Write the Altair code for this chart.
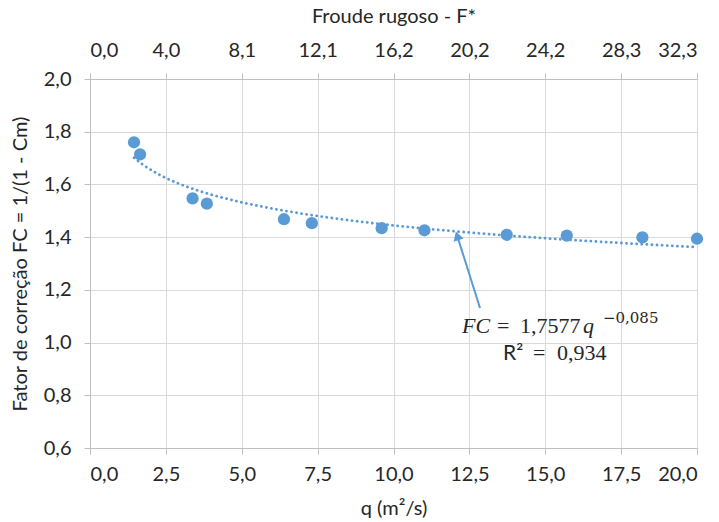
import altair as alt
import pandas as pd

# data
q_vals = [1.45, 1.65, 3.38, 3.85, 6.39, 7.31, 9.61, 11.02, 13.73, 15.71, 18.2, 20.0]
fc_vals = [1.760, 1.714, 1.547, 1.527, 1.468, 1.453, 1.434, 1.426, 1.409, 1.406, 1.399, 1.394]
q_ticks = [0, 2.5, 5, 7.5, 10, 12.5, 15, 17.5, 20]
fc_ticks = [0.6, 0.8, 1.0, 1.2, 1.4, 1.6, 1.8, 2.0]
froude_labels = ["0,0", "4,0", "8,1", "12,1", "16,2", "20,2", "24,2", "28,3", "32,3"]

# annotation (arrow from label to trendline)
arrow_q = [12.85, 12.10]
arrow_fc = [1.131, 1.405]

# equation label pieces (position in data units)
eq_text = ["FC", "=", "1,7577", "q", "−0,085", "R²", "=", "0,934"]
eq_q = [12.257, 13.41, 14.168, 16.244, 16.90, 13.608, 14.596, 15.387]
eq_fc = [1.036, 1.036, 1.036, 1.036, 1.074, 0.934, 0.934, 0.934]
eq_kind = ["it", "rm", "rm", "it", "sup", "sans", "rm", "rm"]

BLUE = "#5b9bd5"
TXT = "#262626"
FONT = "Lato"
GRID = "#d9d9d9"
AXC = "#bfbfbf"
FS = 20

df = pd.DataFrame({"q": q_vals, "fc": fc_vals})
arrow_df = pd.DataFrame({"q": arrow_q, "fc": arrow_fc, "o": [0, 1]})
top_df = pd.DataFrame({"q": q_ticks, "lab": froude_labels})
eq_df = pd.DataFrame({"q": eq_q, "fc": eq_fc, "t": eq_text, "k": eq_kind})

xscale = alt.Scale(domain=[0, 20], nice=False, zero=False)
yscale = alt.Scale(domain=[0.6, 2.0], nice=False, zero=False)

common = dict(domainColor=AXC, tickColor=AXC, tickSize=6,
              labelFontSize=FS, titleFontSize=FS, labelColor=TXT, titleColor=TXT,
              labelFont=FONT, titleFont=FONT, titleFontWeight="normal")

xaxis = alt.Axis(values=q_ticks, title="q (m²/s)",
                 labelExpr="replace(format(datum.value, '.1f'), '.', ',')",
                 grid=True, gridColor=GRID, labelPadding=10, titlePadding=14, **common)
yaxis = alt.Axis(values=fc_ticks, title="Fator de correção FC = 1/(1 - Cm)",
                 labelExpr="replace(format(datum.value, '.1f'), '.', ',')",
                 grid=True, gridColor=GRID, labelPadding=13, titlePadding=13, **common)

X = alt.X("q:Q", scale=xscale, axis=None)
Y = alt.Y("fc:Q", scale=yscale, axis=yaxis)

trend = alt.Chart(df).transform_regression(
    "q", "fc", method="pow"
).mark_line(color=BLUE, strokeWidth=2.8, strokeDash=[0.1, 5], strokeCap="round").encode(x=X, y=Y)

points = alt.Chart(df).mark_circle(size=150, color=BLUE, opacity=1).encode(
    x=alt.X("q:Q", scale=xscale, axis=xaxis),
    y=Y,
)

lab_arr = "[" + ",".join("'%s'" % s for s in froude_labels) + "]"
tick_arr = "[" + ",".join(str(v) for v in q_ticks) + "]"
top_axis = alt.Chart(top_df).mark_point(opacity=0).encode(
    x=alt.X("q:Q", scale=xscale,
            axis=alt.Axis(orient="top", values=q_ticks, title="Froude rugoso - F*",
                          labelExpr=lab_arr + "[indexof(" + tick_arr + ", datum.value)]",
                          grid=False, labelPadding=13, titlePadding=14, **common)),
    y=alt.value(0),
)

arrow_line = alt.Chart(arrow_df).mark_line(color=BLUE, strokeWidth=2).encode(
    x=X, y=Y, order="o:Q")
arrow_head = alt.Chart(arrow_df[arrow_df.o == 1]).mark_point(
    shape="triangle-up", filled=True, color=BLUE, size=110, angle=342, opacity=1
).encode(x=X, y=Y)


def txt(kind, font, size, style):
    return alt.Chart(eq_df[eq_df.k == kind]).mark_text(
        align="left", baseline="alphabetic", font=font, fontSize=size,
        color=TXT, fontStyle=style).encode(x=X, y=Y, text="t:N")


ann = [
    txt("it", "Liberation Serif", 22, "italic"),
    txt("rm", "Liberation Serif", 22, "normal"),
    txt("sup", "DejaVu Serif", 15, "normal"),
    txt("sans", "Lato", 21, "normal"),
]

chart = alt.layer(trend, points, arrow_line, arrow_head, *ann, top_axis).resolve_axis(
    x="independent"
).properties(
    width=607, height=369,
    padding={"left": 90, "top": 79, "right": 22, "bottom": 74},
    autosize=alt.AutoSizeParams(type="none"),
    background="white",
).configure_view(stroke=None)

chart.save("out.html", embed_options={"renderer": "svg", "actions": False})
